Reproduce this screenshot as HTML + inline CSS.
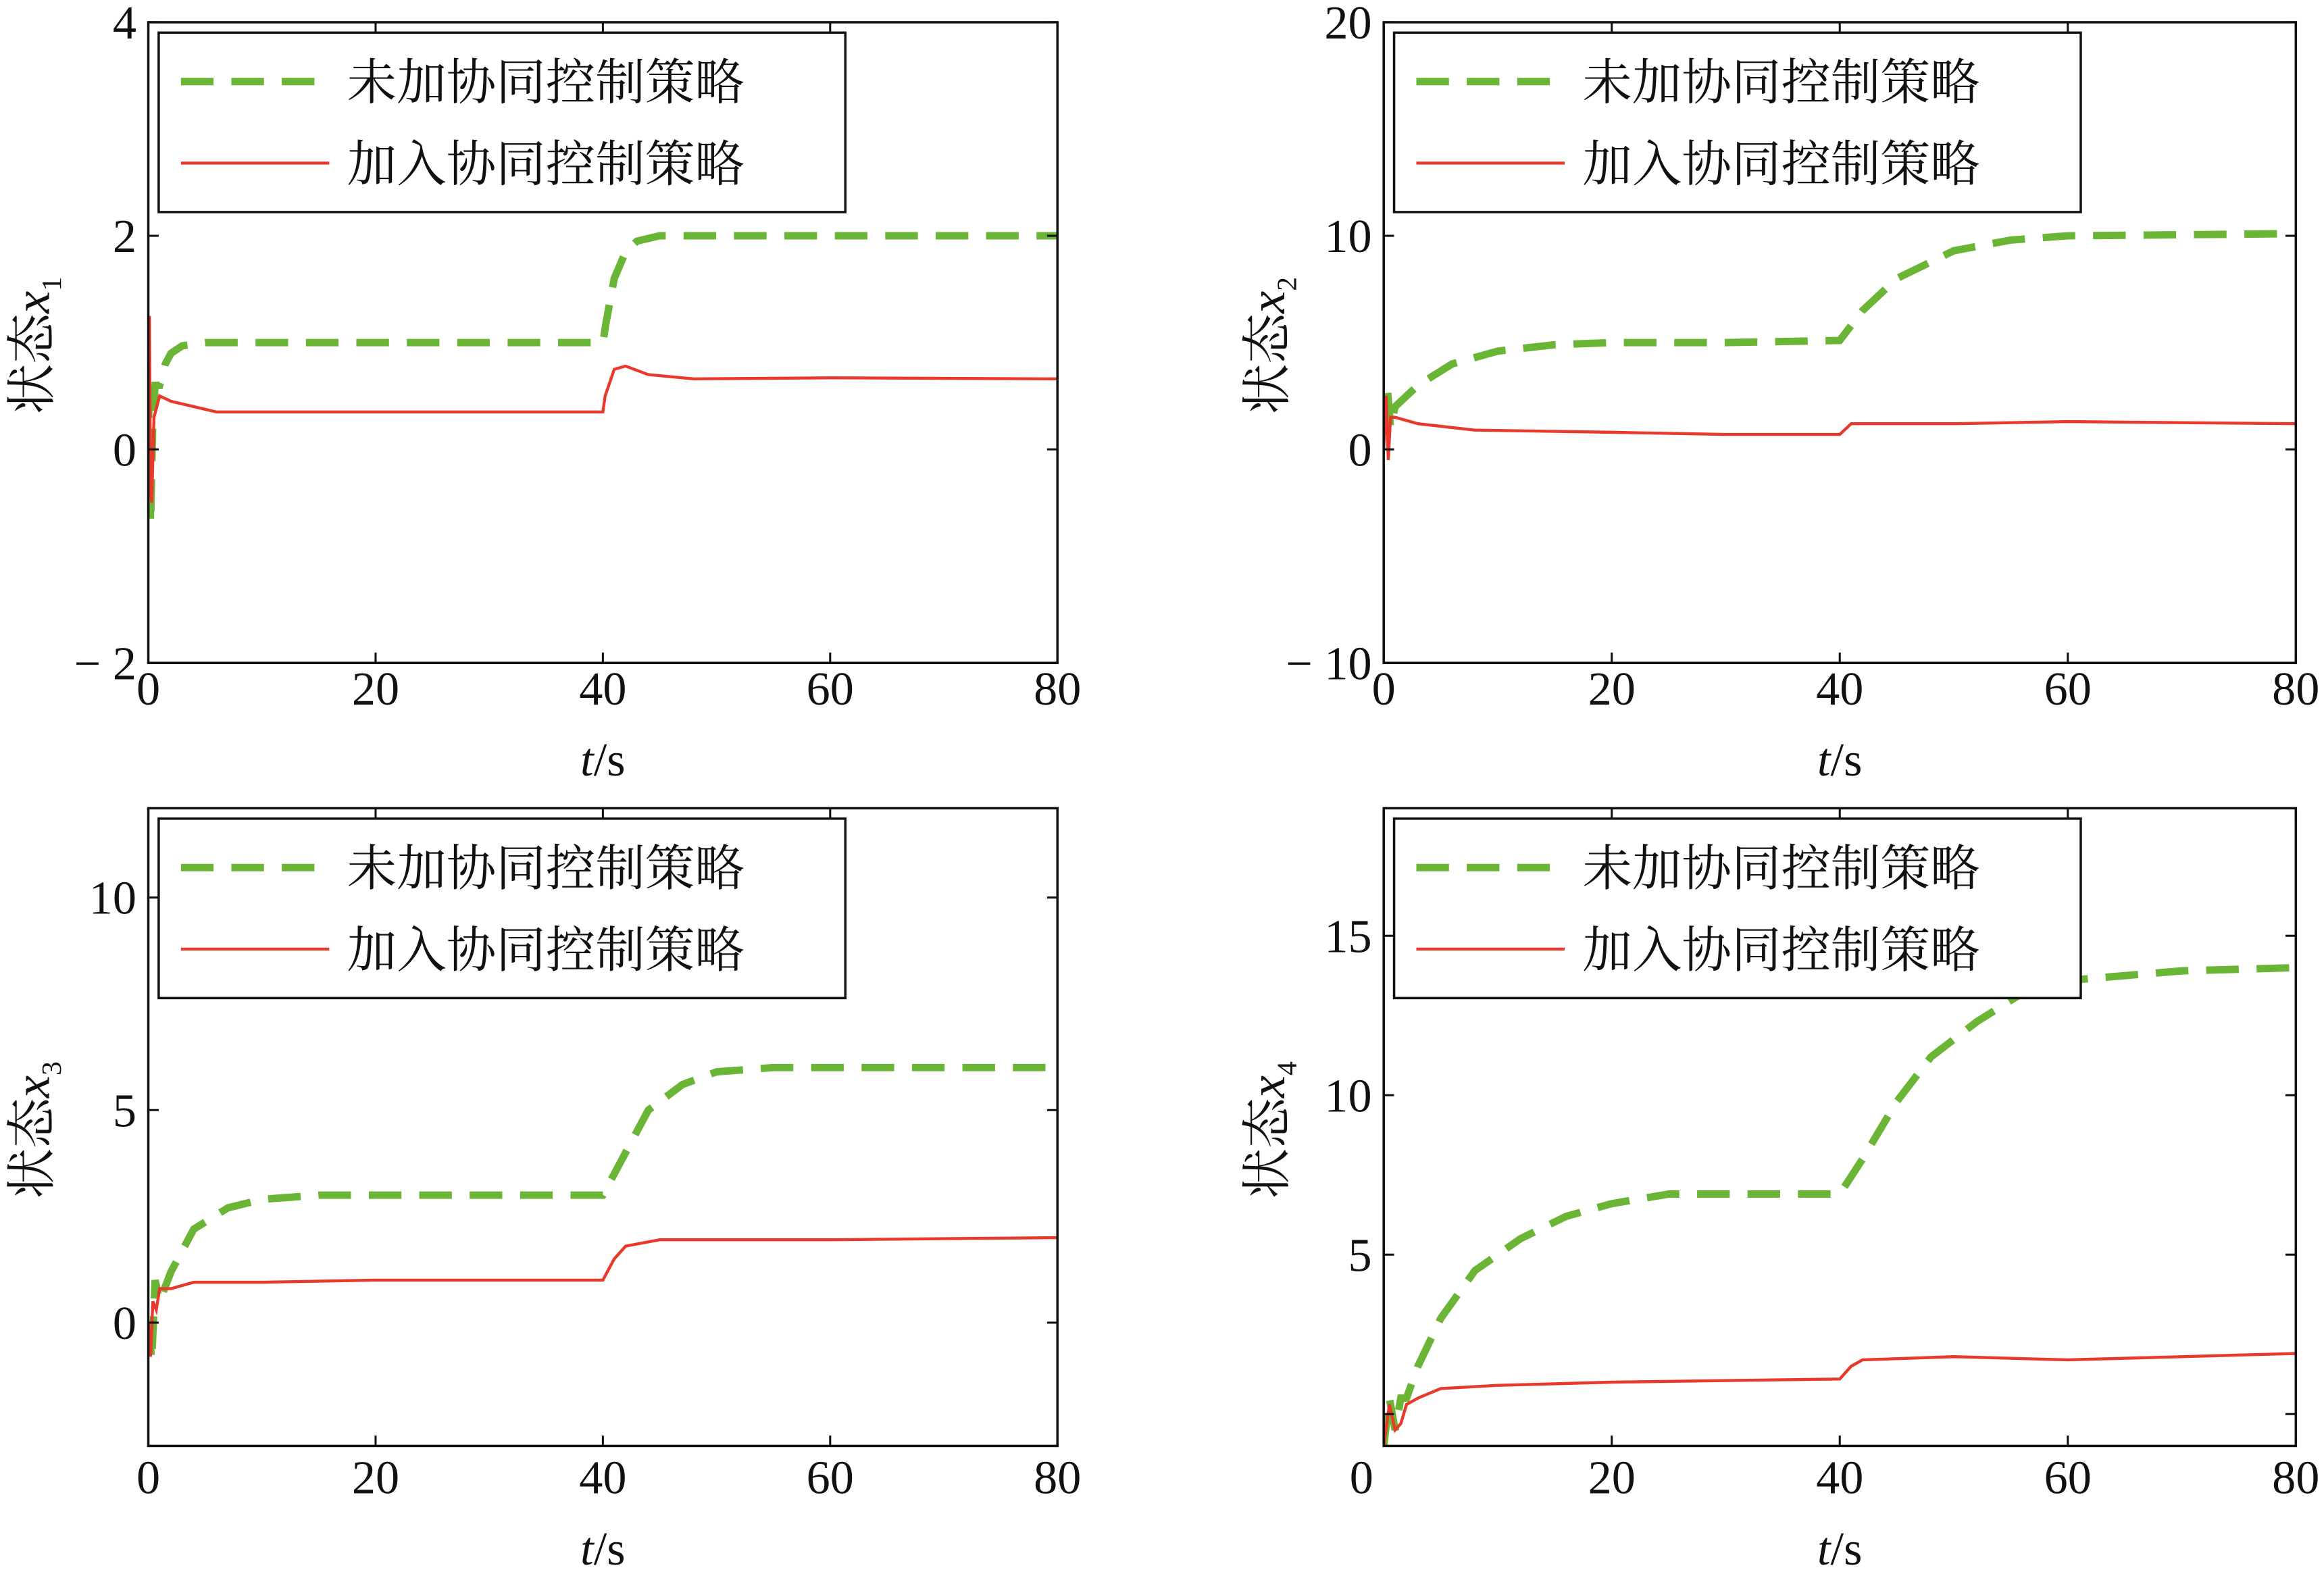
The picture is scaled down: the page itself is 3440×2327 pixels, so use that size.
<!DOCTYPE html>
<html><head><meta charset="utf-8">
<style>
html,body{margin:0;padding:0;background:#fff;}
svg{display:block;}
text{font-family:"Liberation Serif","Noto Serif CJK SC",serif;fill:#111;}
</style></head>
<body>
<svg id="fig" xmlns="http://www.w3.org/2000/svg" width="3440" height="2327" viewBox="0 0 1567 1060" preserveAspectRatio="none"></svg>
<script>
// ---- Panel data (t in seconds) ----
const p1GreenT = [0,0.2,0.4,0.6,1,1.5,2,3,5,10,20,30,40,40.3,41,42,43,45,50,60,80];
const p1GreenV = [0.6,-0.7,0.3,0.6,0.6,0.8,0.9,0.97,1.0,1.0,1.0,1.0,1.0,1.2,1.6,1.85,1.95,2.0,2.0,2.0,2.0];
const p1RedT = [0,0.1,0.2,0.3,0.5,1,2,4,6,10,20,30,40,40.2,41,42,44,48,60,80];
const p1RedV = [0.5,1.25,-0.4,-0.5,0.3,0.5,0.45,0.4,0.35,0.35,0.35,0.35,0.35,0.5,0.75,0.78,0.7,0.66,0.67,0.66];
const p2GreenT = [0,0.3,0.6,1,3,6,10,15,20,30,40,42,45,50,55,60,80];
const p2GreenV = [1,3,1,2,3,4,4.6,4.9,5,5,5.1,6.5,8,9.3,9.8,10,10.1];
const p2RedT = [0,0.2,0.4,0.6,1,3,8,20,30,40,41,50,60,80];
const p2RedV = [0,2.5,-0.5,1.5,1.5,1.2,0.9,0.8,0.7,0.7,1.2,1.2,1.3,1.2];
const p3GreenT = [0,0.3,0.6,1,2,4,7,10,15,20,30,40,42,44,47,50,55,80];
const p3GreenV = [0,-0.9,1,0.5,1.2,2.2,2.7,2.9,3,3,3,3,4,5,5.6,5.9,6,6];
const p3RedT = [0,0.2,0.4,0.7,1,2,4,10,20,40,41,42,45,60,80];
const p3RedV = [0,-0.8,0.5,0.3,0.8,0.8,0.95,0.95,1,1,1.5,1.8,1.95,1.95,2];
const p4GreenT = [0,0.5,1,1.5,2,3,5,8,12,16,20,25,30,40,42,45,48,52,56,60,70,80];
const p4GreenV = [-1,0.5,-0.5,0.5,0.5,1.5,3,4.5,5.5,6.2,6.6,6.9,6.9,6.9,8,9.8,11.2,12.3,13.2,13.6,13.9,14];
const p4RedT = [0,0.5,1,1.5,2,3,5,10,20,40,41,42,50,60,80];
const p4RedV = [-1,0.3,-0.5,-0.3,0.3,0.5,0.8,0.9,1,1.1,1.5,1.7,1.8,1.7,1.9];
const xTicks = [0,20,40,60,80];
const p1YTicks = [-2,0,2,4];
const p1YLabels = ["\u2212 2","0","2","4"];
const p2YTicks = [-10,0,10,20];
const p2YLabels = ["\u2212 10","0","10","20"];
const p3YTicks = [0,5,10];
const p3YLabels = ["0","5","10"];
const p4YTicks = [0,5,10,15];
const p4YLabels = ["","5","10","15"];

const NS="http://www.w3.org/2000/svg";
const svg=document.getElementById('fig');
function mk(tag,attrs,parent){const e=document.createElementNS(NS,tag);for(const k in attrs)e.setAttribute(k,attrs[k]);(parent||svg).appendChild(e);return e;}

const panels=[
 {id:'p1',L:100,R:713,T:15,B:447,ymin:-2,ymax:4,yt:p1YTicks,yl:p1YLabels,gT:p1GreenT,gV:p1GreenV,rT:p1RedT,rV:p1RedV,sub:'1',ylx:22,xlY:463,tsY:511},
 {id:'p2',L:933,R:1548,T:15,B:447,ymin:-10,ymax:20,yt:p2YTicks,yl:p2YLabels,gT:p2GreenT,gV:p2GreenV,rT:p2RedT,rV:p2RedV,sub:'2',ylx:855,xlY:463,tsY:511},
 {id:'p3',L:100,R:713,T:545,B:975,ymin:-2.9,ymax:12.1,yt:p3YTicks,yl:p3YLabels,gT:p3GreenT,gV:p3GreenV,rT:p3RedT,rV:p3RedV,sub:'3',ylx:22,xlY:995,tsY:1043},
 {id:'p4',L:933,R:1548,T:545,B:975,ymin:-1.0,ymax:19.0,yt:p4YTicks,yl:p4YLabels,gT:p4GreenT,gV:p4GreenV,rT:p4RedT,rV:p4RedV,sub:'4',ylx:855,xlY:995,tsY:1043,x0shift:true}
];

panels.forEach(p=>{
  const g=mk('g',{});
  
  
  const xs=t=>p.L+(t/80)*(p.R-p.L);
  const ys=v=>p.B-(v-p.ymin)/(p.ymax-p.ymin)*(p.B-p.T);
  const clip=mk('clipPath',{id:'clip-'+p.id},g);
  mk('rect',{x:p.L,y:p.T,width:p.R-p.L,height:p.B-p.T},clip);
  const gp=p.gT.map((t,i)=>xs(t).toFixed(2)+','+ys(p.gV[i]).toFixed(2)).join(' ');
  const gl=mk('polyline',{points:gp,fill:'none',stroke:'#6bb536','stroke-width':5,'stroke-dasharray':'22 12','clip-path':'url(#clip-'+p.id+')'},g);
  
  
  const rp=p.rT.map((t,i)=>xs(t).toFixed(2)+','+ys(p.rV[i]).toFixed(2)).join(' ');
  const rl=mk('polyline',{points:rp,fill:'none',stroke:'#e8392b','stroke-width':2,'clip-path':'url(#clip-'+p.id+')'},g);
  
  
  const fr=mk('rect',{x:p.L,y:p.T,width:p.R-p.L,height:p.B-p.T,fill:'none',stroke:'#111','stroke-width':1.6},g);
  
  
  xTicks.forEach(t=>{
    const x=xs(t);
    mk('line',{x1:x,y1:p.B,x2:x,y2:p.B-7,stroke:'#111','stroke-width':1.4},g);
    mk('line',{x1:x,y1:p.T,x2:x,y2:p.T+7,stroke:'#111','stroke-width':1.4},g);
    let tx=x; if(p.x0shift&&t===0) tx=x-15;
    const lab=mk('text',{x:tx,y:p.xlY+12,'font-size':32,'text-anchor':'middle'},g);
    lab.textContent=String(t);
    
    
  });
  p.yt.forEach((v,i)=>{
    const y=ys(v);
    mk('line',{x1:p.L,y1:y,x2:p.L+7,y2:y,stroke:'#111','stroke-width':1.4},g);
    mk('line',{x1:p.R,y1:y,x2:p.R-7,y2:y,stroke:'#111','stroke-width':1.4},g);
    const lab=mk('text',{x:p.L-8,y:y+11,'font-size':32,'text-anchor':'end'},g);
    lab.textContent=p.yl[i];
    
    
  });
  const xt=mk('text',{x:(p.L+p.R)/2,y:p.tsY+12,'font-size':32,'text-anchor':'middle'},g);
  xt.innerHTML='<tspan font-style="italic">t</tspan>/s';
  
  
  const cy=(p.T+p.B)/2;
  const yt=mk('text',{x:0,y:0,'font-size':34,'text-anchor':'middle',transform:'translate('+(p.ylx+11)+','+(cy+2)+') rotate(-90)'},g);
  yt.innerHTML='状态<tspan font-style="italic">x</tspan><tspan font-size="19" dy="8">'+p.sub+'</tspan>';
  
  
  const lx=p.L+7, ly=p.T+7, lw=463, lh=121;
  const lg=mk('g',{},g);
  
  
  mk('rect',{x:lx,y:ly,width:lw,height:lh,fill:'#fff',stroke:'#111','stroke-width':1.6},lg);
  mk('line',{x1:lx+15,y1:ly+33,x2:lx+115,y2:ly+33,stroke:'#6bb536','stroke-width':5,'stroke-dasharray':'22 12'},lg);
  mk('line',{x1:lx+15,y1:ly+88,x2:lx+115,y2:ly+88,stroke:'#e8392b','stroke-width':2},lg);
  const t1=mk('text',{x:lx+127,y:ly+45,'font-size':33.5},lg);
  t1.textContent='未加协同控制策略';
  
  
  const t2=mk('text',{x:lx+127,y:ly+100,'font-size':33.5},lg);
  t2.textContent='加入协同控制策略';
  
  
});
</script>
</body></html>
